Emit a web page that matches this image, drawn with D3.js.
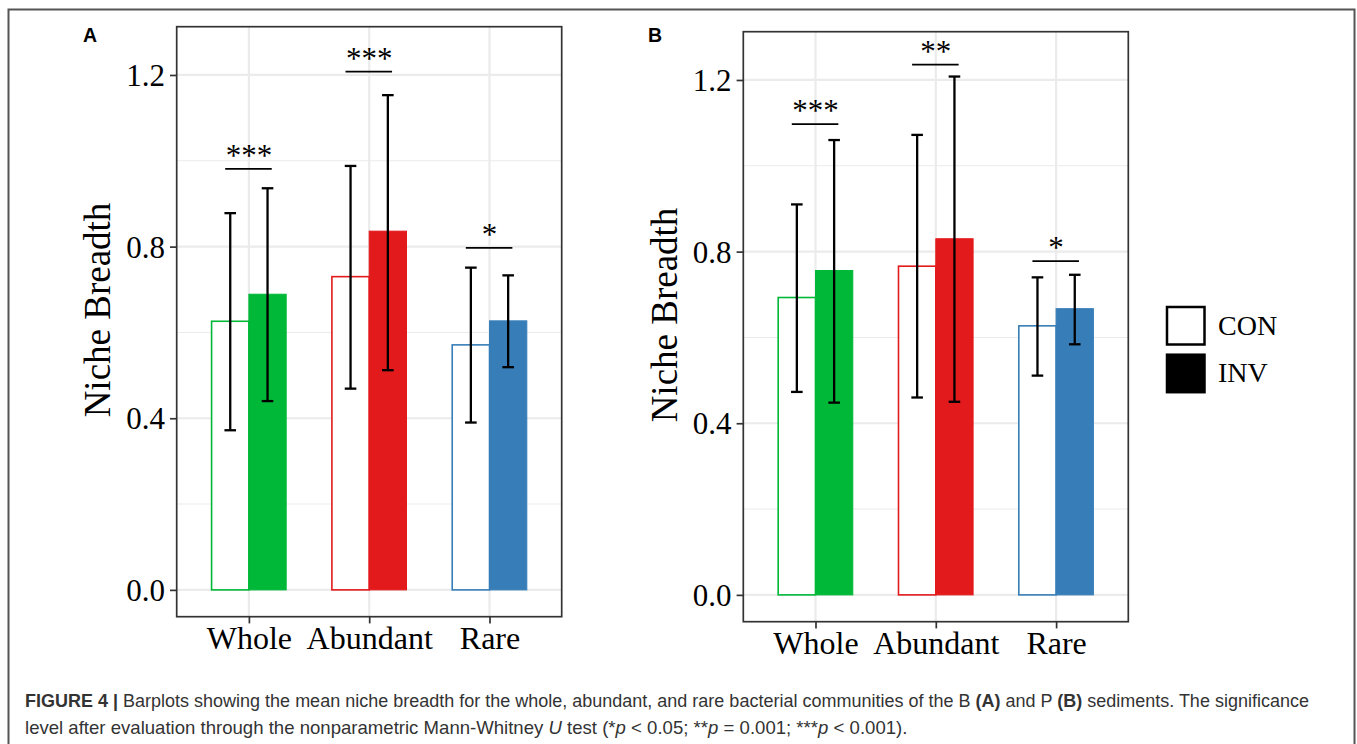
<!DOCTYPE html>
<html>
<head>
<meta charset="utf-8">
<script src="https://cdn.jsdelivr.net/npm/d3@7/dist/d3.min.js"></script>
<style>
  html, body { margin: 0; padding: 0; background: #fff; }
  svg { display: block; }
</style>
</head>
<body>
<svg id="chart" width="1357" height="744"></svg>
<script>
// ---------------- DATA ----------------
const categories = ["Whole", "Abundant", "Rare"];
const groups = ["CON", "INV"];
const yTicks = [0, 0.4, 0.8, 1.2];
const yMinorTicks = [0.2, 0.6, 1.0];
const colors = ["#00B838", "#E31A1C", "#377EB8"];

// Panel A (B sediments)
const conA   = [0.626, 0.730, 0.571];
const conAlo = [0.372, 0.469, 0.390];
const conAhi = [0.878, 0.988, 0.751];
const invA   = [0.689, 0.836, 0.627];
const invAlo = [0.440, 0.512, 0.519];
const invAhi = [0.936, 1.153, 0.733];
const sigAlabels = ["***", "***", "*"];
const sigAy      = [0.981, 1.208, 0.797];

// Panel B (P sediments)
const conB   = [0.693, 0.766, 0.627];
const conBlo = [0.473, 0.460, 0.511];
const conBhi = [0.910, 1.072, 0.740];
const invB   = [0.756, 0.830, 0.667];
const invBlo = [0.448, 0.450, 0.584];
const invBhi = [1.060, 1.208, 0.746];
const sigBlabels = ["***", "**", "*"];
const sigBy      = [1.097, 1.236, 0.778];

const yTitle = "Niche Breadth";

// ---------------- DRAW ----------------
const svg = d3.select("#chart");
const serif = "'Liberation Serif', 'Times New Roman', serif";
const sans = "'Liberation Sans', Arial, Helvetica, sans-serif";

// outer frame
svg.append("rect")
  .attr("x", 8.5).attr("y", 9.5).attr("width", 1346).attr("height", 800)
  .attr("fill", "none").attr("stroke", "#555").attr("stroke-width", 2);

const panels = [
  { label: "A", lx: 83, ly: 41.7, left: 176.7, top: 26.7, titleX: 110, titleY: 310,
    con: conA, conLo: conAlo, conHi: conAhi, inv: invA, invLo: invAlo, invHi: invAhi,
    sigLabels: sigAlabels, sigY: sigAy },
  { label: "B", lx: 648, ly: 42.3, left: 743.3, top: 31.7, titleX: 676.7, titleY: 315,
    con: conB, conLo: conBlo, conHi: conBhi, inv: invB, invLo: invBlo, invHi: invBhi,
    sigLabels: sigBlabels, sigY: sigBy }
];
const PW = 385, PH = 590;

panels.forEach(p => {
  const g = svg.append("g").attr("transform", `translate(${p.left},${p.top})`);
  const x = d3.scalePoint().domain(categories).range([0, PW]).padding(0.6);
  const step = x.step();
  const y = d3.scaleLinear().domain([-0.0625, 1.3125]).range([PH, 0]);

  // grid
  g.selectAll(".minor").data(yMinorTicks).join("line")
    .attr("x1", 0).attr("x2", PW).attr("y1", d => y(d)).attr("y2", d => y(d))
    .attr("stroke", "#ebebeb").attr("stroke-width", 1.1);
  g.selectAll(".major").data(yTicks).join("line")
    .attr("x1", 0).attr("x2", PW).attr("y1", d => y(d)).attr("y2", d => y(d))
    .attr("stroke", "#ebebeb").attr("stroke-width", 2.2);
  g.selectAll(".vmajor").data(categories).join("line")
    .attr("x1", d => x(d)).attr("x2", d => x(d)).attr("y1", 0).attr("y2", PH)
    .attr("stroke", "#ebebeb").attr("stroke-width", 2.2);

  const barW = 0.31 * step;
  // CON bars
  g.selectAll(".con").data(categories).join("rect")
    .attr("x", d => x(d) - barW).attr("width", barW)
    .attr("y", (d, i) => y(p.con[i])).attr("height", (d, i) => y(0) - y(p.con[i]))
    .attr("fill", "#fff").attr("stroke", (d, i) => colors[i]).attr("stroke-width", 1.6);
  // INV bars
  g.selectAll(".inv").data(categories).join("rect")
    .attr("x", d => x(d)).attr("width", barW)
    .attr("y", (d, i) => y(p.inv[i])).attr("height", (d, i) => y(0) - y(p.inv[i]))
    .attr("fill", (d, i) => colors[i]).attr("stroke", (d, i) => colors[i]).attr("stroke-width", 1);

  // error bars
  const capHalf = 5.8;
  const errs = [];
  categories.forEach((c, i) => {
    errs.push({ cx: x(c) - barW / 2, lo: p.conLo[i], hi: p.conHi[i] });
    errs.push({ cx: x(c) + barW / 2, lo: p.invLo[i], hi: p.invHi[i] });
  });
  const eg = g.append("g").attr("stroke", "#000").attr("stroke-width", 2.3);
  errs.forEach(e => {
    eg.append("line").attr("x1", e.cx).attr("x2", e.cx).attr("y1", y(e.lo)).attr("y2", y(e.hi));
    eg.append("line").attr("x1", e.cx - capHalf).attr("x2", e.cx + capHalf).attr("y1", y(e.lo)).attr("y2", y(e.lo));
    eg.append("line").attr("x1", e.cx - capHalf).attr("x2", e.cx + capHalf).attr("y1", y(e.hi)).attr("y2", y(e.hi));
  });

  // significance
  categories.forEach((c, i) => {
    g.append("line")
      .attr("x1", x(c) - 0.197 * step).attr("x2", x(c) + 0.19 * step)
      .attr("y1", y(p.sigY[i])).attr("y2", y(p.sigY[i]))
      .attr("stroke", "#000").attr("stroke-width", 1.7);
    g.append("text")
      .attr("x", x(c)).attr("y", y(p.sigY[i]) - 3)
      .attr("text-anchor", "middle")
      .attr("font-family", serif).attr("font-size", 31).attr("fill", "#000")
      .text(p.sigLabels[i]);
  });

  // panel border
  g.append("rect").attr("x", 0).attr("y", 0).attr("width", PW).attr("height", PH)
    .attr("fill", "none").attr("stroke", "#333").attr("stroke-width", 1.7);

  // axes
  const yAxis = g.append("g")
    .call(d3.axisLeft(y).tickValues(yTicks).tickFormat(d3.format(".1f")).tickSize(6.7).tickPadding(5));
  yAxis.select(".domain").remove();
  yAxis.selectAll("line").attr("stroke", "#333").attr("stroke-width", 1.7);
  yAxis.selectAll("text").attr("font-family", serif).attr("font-size", 31).attr("fill", "#000")
    .attr("dy", "0.34em");

  const xAxis = g.append("g").attr("transform", `translate(0,${PH})`)
    .call(d3.axisBottom(x).tickSize(6.7).tickPadding(3));
  xAxis.select(".domain").remove();
  xAxis.selectAll("line").attr("stroke", "#333").attr("stroke-width", 1.7);
  xAxis.selectAll("text").attr("font-family", serif).attr("font-size", 32).attr("fill", "#000");

  // y title
  svg.append("text")
    .attr("transform", `translate(${p.titleX},${p.titleY}) rotate(-90)`)
    .attr("text-anchor", "middle")
    .attr("font-family", serif).attr("font-size", 37).attr("fill", "#000")
    .text(yTitle);

  // panel label
  svg.append("text").attr("x", p.lx).attr("y", p.ly)
    .attr("font-family", sans).attr("font-weight", "bold").attr("font-size", 19.5).attr("fill", "#000")
    .text(p.label);
});

// legend
const legend = svg.append("g").attr("transform", "translate(1167,307)");
groups.forEach((gname, i) => {
  legend.append("rect").attr("x", 0).attr("y", i * 47.7).attr("width", 37.5).attr("height", 37.5)
    .attr("fill", i === 0 ? "#fff" : "#000").attr("stroke", "#000").attr("stroke-width", 2.5);
  legend.append("text").attr("x", 51).attr("y", i * 47 + 28.2)
    .attr("font-family", serif).attr("font-size", 28).attr("fill", "#000")
    .text(gname);
});

// caption
function captionLine(yBase, targetW, parts) {
  const g = svg.append("g");
  const t = g.append("text").attr("x", 0).attr("y", 0)
    .attr("font-family", sans).attr("font-size", 18.5).attr("fill", "#333");
  parts.forEach(pt => {
    const s = t.append("tspan").text(pt.t);
    if (pt.b) s.attr("font-weight", "bold");
    if (pt.i) s.attr("font-style", "italic");
  });
  const w = t.node().getComputedTextLength();
  g.attr("transform", `translate(25,${yBase}) scale(${targetW / w},1)`);
}
captionLine(707, 1284, [
  { t: "FIGURE 4 | ", b: true },
  { t: "Barplots showing the mean niche breadth for the whole, abundant, and rare bacterial communities of the B " },
  { t: "(A)", b: true },
  { t: " and P " },
  { t: "(B)", b: true },
  { t: " sediments. The significance" }
]);
captionLine(734, 883, [
  { t: "level after evaluation through the nonparametric Mann-Whitney " },
  { t: "U", i: true },
  { t: " test (*" },
  { t: "p", i: true },
  { t: " <  0.05; **" },
  { t: "p", i: true },
  { t: " = 0.001; ***" },
  { t: "p", i: true },
  { t: " < 0.001)." }
]);
</script>
</body>
</html>
